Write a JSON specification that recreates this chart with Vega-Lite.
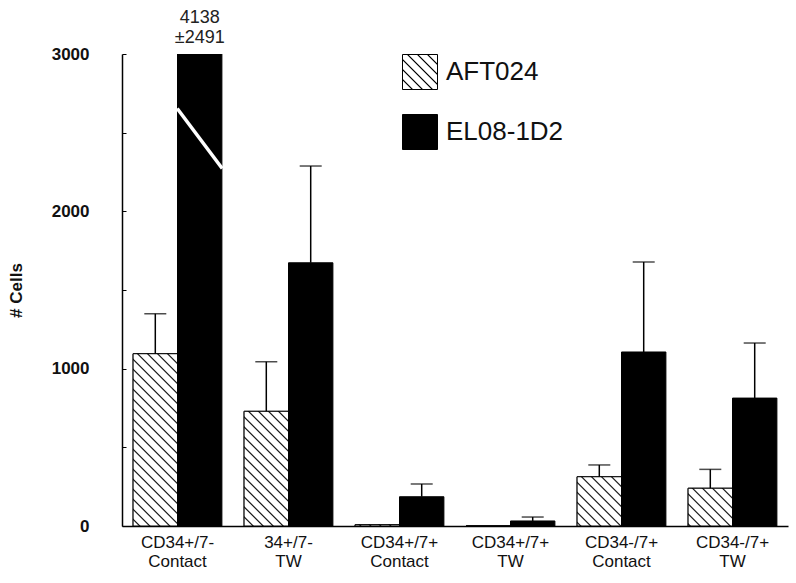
{
  "$schema": "https://vega.github.io/schema/vega-lite/v6.json",
  "autosize": {"type": "none"},
  "padding": {"left": 122, "top": 54, "right": 8, "bottom": 57},
  "width": 666,
  "height": 472,
  "config": {
    "view": {"stroke": null},
    "font": "Liberation Sans",
    "axis": {"grid": false, "domainColor": "#000", "tickColor": "#000", "labelColor": "#111", "titleColor": "#111"}
  },
  "data": {
    "values": [
      {"category": "CD34+/7- Contact", "series": "AFT024", "value": 1095, "upper": 1349, "label": null},
      {"category": "34+/7- TW", "series": "AFT024", "value": 729, "upper": 1044, "label": null},
      {"category": "CD34+/7+ Contact", "series": "AFT024", "value": 8, "upper": null, "label": null},
      {"category": "CD34+/7+ TW", "series": "AFT024", "value": 0, "upper": null, "label": null},
      {"category": "CD34-/7+ Contact", "series": "AFT024", "value": 313, "upper": 388, "label": null},
      {"category": "CD34-/7+ TW", "series": "AFT024", "value": 240, "upper": 360, "label": null},
      {"category": "CD34+/7- Contact", "series": "EL08-1D2", "value": 4138, "upper": null, "label": "4138\n±2491"},
      {"category": "34+/7- TW", "series": "EL08-1D2", "value": 1673, "upper": 2288, "label": null},
      {"category": "CD34+/7+ Contact", "series": "EL08-1D2", "value": 186, "upper": 267, "label": null},
      {"category": "CD34+/7+ TW", "series": "EL08-1D2", "value": 32, "upper": 57, "label": null},
      {"category": "CD34-/7+ Contact", "series": "EL08-1D2", "value": 1106, "upper": 1678, "label": null},
      {"category": "CD34-/7+ TW", "series": "EL08-1D2", "value": 813, "upper": 1163, "label": null}
    ]
  },
  "encoding": {
    "x": {
      "field": "category", "type": "nominal",
      "scale": {"domain": ["CD34+/7- Contact", "34+/7- TW", "CD34+/7+ Contact", "CD34+/7+ TW", "CD34-/7+ Contact", "CD34-/7+ TW"], "paddingInner": 0.2, "paddingOuter": 0.1},
      "axis": {"title": null, "labelAngle": 0, "ticks": false, "domainWidth": 1.5, "labelFontSize": 17, "labelLineHeight": 19, "labelPadding": 8, "labelExpr": "split(datum.label, ' ')"}
    },
    "xOffset": {"field": "series", "type": "nominal", "scale": {"domain": ["AFT024", "EL08-1D2"]}}
  },
  "layer": [
    {
      "mark": {"type": "bar", "clip": true, "stroke": "#000", "strokeWidth": 1},
      "encoding": {
        "y": {
          "field": "value", "type": "quantitative",
          "scale": {"domain": [0, 3000], "nice": false, "zero": true},
          "axis": {"title": "# Cells", "titleFontSize": 17, "titleFontWeight": "bold", "titlePadding": 26,
                   "values": [0, 500, 1000, 1500, 2000, 2500, 3000], "format": "d",
                   "labelExpr": "datum.value % 1000 === 0 ? datum.label : ''",
                   "labelFontSize": 17, "labelFontWeight": "bold", "labelPadding": 37, "tickSize": -4, "domainWidth": 1.5}
        },
        "color": {
          "field": "series", "type": "nominal",
          "scale": {"domain": ["AFT024", "EL08-1D2"],
                    "range": [
                      {"expr": "{gradient: 'linear', x1: 1, y1: 0, x2: 0, y2: 1, stops: [{offset:0,color:'#000'},{offset:0.0214,color:'#fff'},{offset:0.1214,color:'#fff'},{offset:0.1429,color:'#000'},{offset:0.1643,color:'#fff'},{offset:0.2643,color:'#fff'},{offset:0.2857,color:'#000'},{offset:0.3071,color:'#fff'},{offset:0.4071,color:'#fff'},{offset:0.4286,color:'#000'},{offset:0.45,color:'#fff'},{offset:0.55,color:'#fff'},{offset:0.5714,color:'#000'},{offset:0.5929,color:'#fff'},{offset:0.6929,color:'#fff'},{offset:0.7143,color:'#000'},{offset:0.7357,color:'#fff'},{offset:0.8357,color:'#fff'},{offset:0.8571,color:'#000'},{offset:0.8786,color:'#fff'},{offset:0.9786,color:'#fff'},{offset:1,color:'#000'}]}"},
                      "#000"
                    ]},
          "legend": {"title": null, "orient": "none", "legendX": 280, "legendY": 0, "symbolType": "square", "symbolSize": 1225,
                     "symbolStrokeColor": "#000", "symbolStrokeWidth": 1, "labelFontSize": 26, "labelColor": "#111",
                     "labelOffset": 8, "rowPadding": 20}
        }
      }
    },
    {
      "transform": [{"filter": "datum.series === 'AFT024'"}],
      "mark": {
        "type": "bar", "stroke": "#000", "strokeWidth": 1,
        "fill": {"expr": "{gradient: 'linear', x1: 1, y1: 0, x2: 1 - 220/(44.4*(1+pow((scale('y',0)-scale('y',datum.value))/44.4,2))), y2: 220*((scale('y',0)-scale('y',datum.value))/44.4)/(44.4*(1+pow((scale('y',0)-scale('y',datum.value))/44.4,2))), stops: [{offset:0,color:'#000'},{offset:0.0068,color:'#fff'},{offset:0.0386,color:'#fff'},{offset:0.0455,color:'#000'},{offset:0.0523,color:'#fff'},{offset:0.0841,color:'#fff'},{offset:0.0909,color:'#000'},{offset:0.0977,color:'#fff'},{offset:0.1295,color:'#fff'},{offset:0.1364,color:'#000'},{offset:0.1432,color:'#fff'},{offset:0.175,color:'#fff'},{offset:0.1818,color:'#000'},{offset:0.1886,color:'#fff'},{offset:0.2205,color:'#fff'},{offset:0.2273,color:'#000'},{offset:0.2341,color:'#fff'},{offset:0.2659,color:'#fff'},{offset:0.2727,color:'#000'},{offset:0.2795,color:'#fff'},{offset:0.3114,color:'#fff'},{offset:0.3182,color:'#000'},{offset:0.325,color:'#fff'},{offset:0.3568,color:'#fff'},{offset:0.3636,color:'#000'},{offset:0.3705,color:'#fff'},{offset:0.4023,color:'#fff'},{offset:0.4091,color:'#000'},{offset:0.4159,color:'#fff'},{offset:0.4477,color:'#fff'},{offset:0.4545,color:'#000'},{offset:0.4614,color:'#fff'},{offset:0.4932,color:'#fff'},{offset:0.5,color:'#000'},{offset:0.5068,color:'#fff'},{offset:0.5386,color:'#fff'},{offset:0.5455,color:'#000'},{offset:0.5523,color:'#fff'},{offset:0.5841,color:'#fff'},{offset:0.5909,color:'#000'},{offset:0.5977,color:'#fff'},{offset:0.6295,color:'#fff'},{offset:0.6364,color:'#000'},{offset:0.6432,color:'#fff'},{offset:0.675,color:'#fff'},{offset:0.6818,color:'#000'},{offset:0.6886,color:'#fff'},{offset:0.7205,color:'#fff'},{offset:0.7273,color:'#000'},{offset:0.7341,color:'#fff'},{offset:0.7659,color:'#fff'},{offset:0.7727,color:'#000'},{offset:0.7795,color:'#fff'},{offset:0.8114,color:'#fff'},{offset:0.8182,color:'#000'},{offset:0.825,color:'#fff'},{offset:0.8568,color:'#fff'},{offset:0.8636,color:'#000'},{offset:0.8705,color:'#fff'},{offset:0.9023,color:'#fff'},{offset:0.9091,color:'#000'},{offset:0.9159,color:'#fff'},{offset:0.9477,color:'#fff'},{offset:0.9545,color:'#000'},{offset:0.9614,color:'#fff'},{offset:0.9932,color:'#fff'},{offset:1,color:'#000'}]}"}
      },
      "encoding": {
        "y": {"field": "value", "type": "quantitative"}
      }
    },
    {
      "transform": [{"filter": "datum.upper != null"}],
      "mark": {"type": "rule", "color": "#000", "strokeWidth": 1.5},
      "encoding": {
        "y": {"field": "value", "type": "quantitative"},
        "y2": {"field": "upper"}
      }
    },
    {
      "transform": [{"filter": "datum.upper != null"}],
      "mark": {"type": "tick", "color": "#000", "size": 22, "thickness": 1.5, "orient": "horizontal"},
      "encoding": {
        "y": {"field": "upper", "type": "quantitative"}
      }
    },
    {
      "transform": [{"filter": "datum.label != null"}],
      "mark": {"type": "point", "shape": "M-0.6,-0.8L0.6,0.8", "filled": false, "stroke": "#fff", "strokeWidth": 3.5, "size": 5625, "opacity": 1},
      "encoding": {
        "y": {"datum": 2463, "type": "quantitative"}
      }
    },
    {
      "transform": [{"filter": "datum.label != null"}],
      "mark": {"type": "text", "lineBreak": "\n", "baseline": "bottom", "dy": -27, "fontSize": 18, "lineHeight": 20, "color": "#222"},
      "encoding": {
        "y": {"datum": 3000, "type": "quantitative"},
        "text": {"field": "label"}
      }
    }
  ]
}
